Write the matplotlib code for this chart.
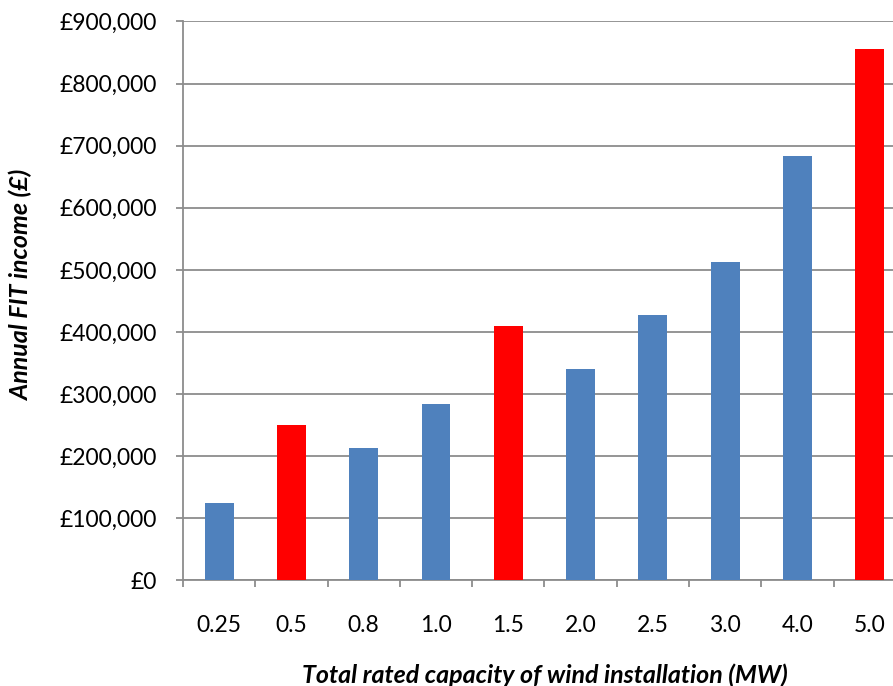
import matplotlib.pyplot as plt
from matplotlib.ticker import FuncFormatter, FixedLocator

capacity = ['0.25', '0.5', '0.8', '1.0', '1.5', '2.0', '2.5', '3.0', '4.0', '5.0']
income = [124000, 250000, 213000, 284000, 410000, 341000, 427000, 512000, 684000, 855000]
highlight = ['0.5', '1.5', '5.0']

blue = '#4F81BD'
red = '#FF0000'
grey = '#8C8C8C'

plt.rcParams['font.family'] = ['Lato', 'DejaVu Sans']

fig = plt.figure(figsize=(8.93, 6.86), dpi=100)
ax = fig.add_axes([0.2049, 0.1539, 0.8096, 0.8148])

xs = list(range(len(capacity)))
colors = [red if c in highlight else blue for c in capacity]
ax.bar(xs, income, width=0.4, color=colors, zorder=3)

ax.set_xlim(-0.5, len(capacity) - 0.5)
ax.set_ylim(0, 900000)
ax.set_yticks(range(0, 900001, 100000))
ax.yaxis.set_major_formatter(FuncFormatter(lambda v, p: '£{:,.0f}'.format(v)))
ax.grid(axis='y', color=grey, linewidth=1.3, zorder=0)

# category labels sit in the middle, tick marks sit on the boundaries
ax.set_xticks(xs)
ax.set_xticklabels(capacity)
ax.xaxis.set_minor_locator(FixedLocator([x - 0.5 for x in xs] + [len(xs) - 0.5]))
ax.tick_params(axis='x', which='major', length=0, pad=25, labelsize=16.5)
ax.tick_params(axis='x', which='minor', length=5, width=1.3, color=grey)
ax.tick_params(axis='y', length=5, width=1.3, color=grey, pad=14, labelsize=16.5)

for side in ['top', 'right']:
    ax.spines[side].set_visible(False)
for side in ['left', 'bottom']:
    ax.spines[side].set_color(grey)
    ax.spines[side].set_linewidth(1.3)

fig.text(0.024, 0.585, 'Annual FIT income (£)', rotation=90, ha='center', va='center',
         fontsize=18, fontweight='bold', fontstyle='italic')
fig.text(0.61, 0.016, 'Total rated capacity of wind installation (MW)', ha='center', va='center',
         fontsize=18, fontweight='bold', fontstyle='italic')

fig.savefig('out.png', dpi=100)
